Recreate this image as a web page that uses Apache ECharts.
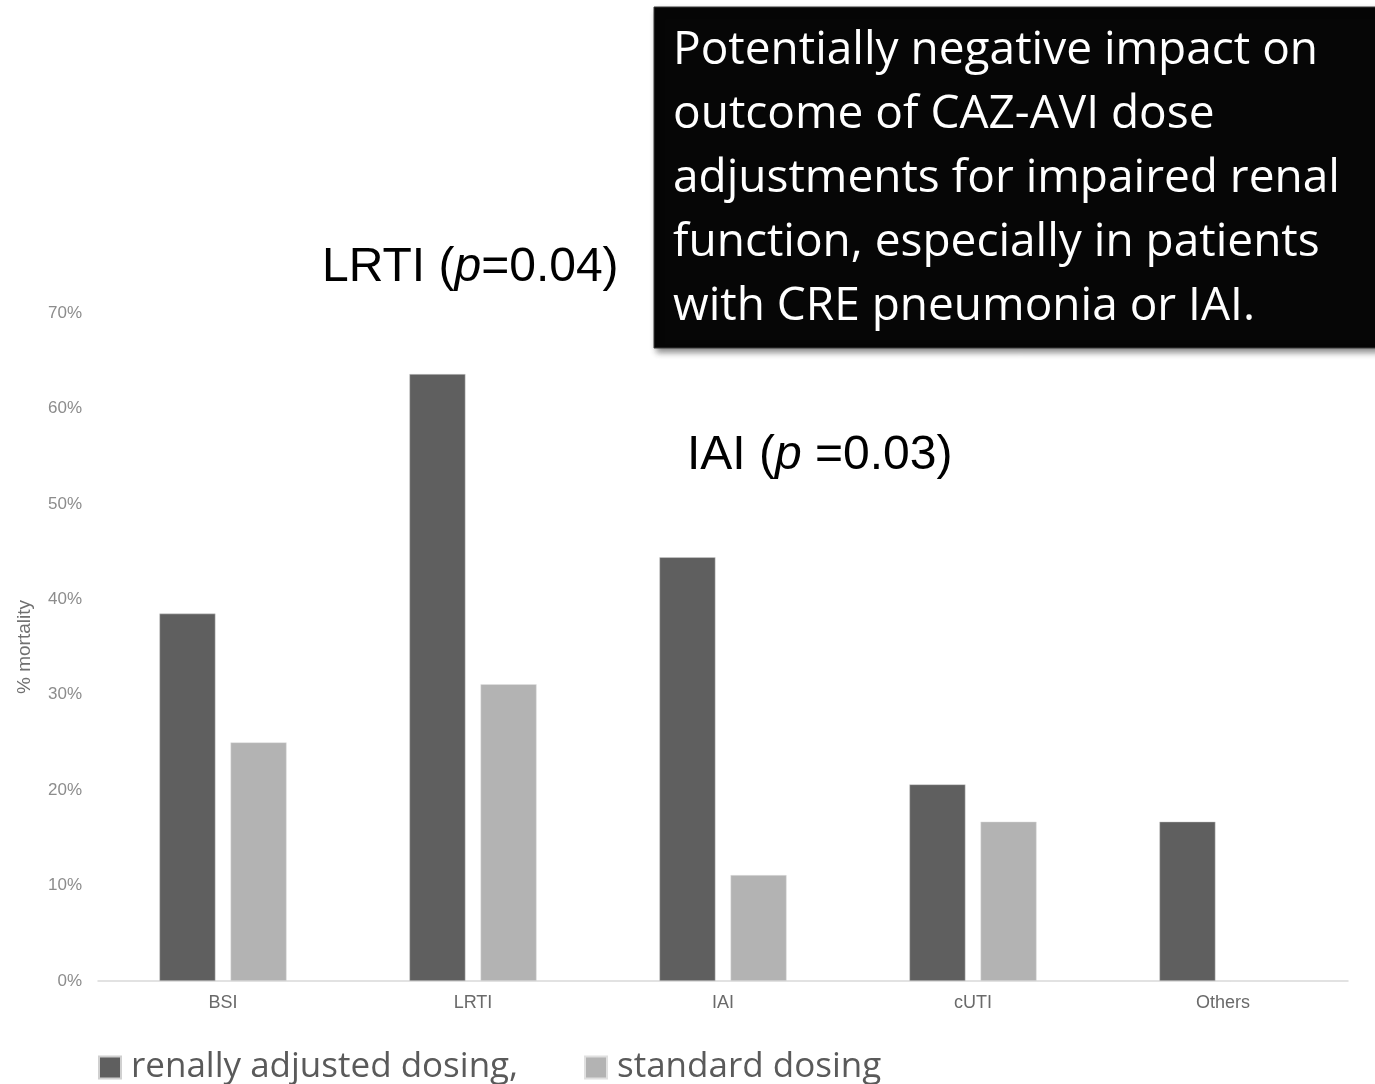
<!DOCTYPE html>
<html>
<head>
<meta charset="utf-8">
<script src="https://cdn.jsdelivr.net/npm/echarts@6/dist/echarts.min.js"></script>
<style>html,body{margin:0;padding:0;background:#fff;}#c{width:1375px;height:1084px;}</style>
</head>
<body>
<div id="c"></div>
<script>
const categories = ['BSI', 'LRTI', 'IAI', 'cUTI', 'Others'];
const renallyAdjusted = [38.5, 63.6, 44.4, 20.6, 16.7];
const standardDosing = [25.0, 31.1, 11.1, 16.7, 0];
const yTicks = [0, 10, 20, 30, 40, 50, 60, 70];
const seriesNames = ['renally adjusted dosing,', 'standard dosing'];
const boxLines = [
  'Potentially negative impact on',
  'outcome of CAZ-AVI dose',
  'adjustments for impaired renal',
  'function, especially in patients',
  'with CRE pneumonia or IAI.'
];

const chart = echarts.init(document.getElementById('c'), null, {renderer: 'canvas'});
const legendText = {fontFamily: 'Open Sans', fontSize: 35, color: '#5a5a5a', padding: [0, 0, 0, 5]};
chart.setOption({
  animation: false,
  backgroundColor: '#ffffff',
  grid: {left: 98, right: 27, top: 313, bottom: 103, containLabel: false},
  legend: [
    {data: [seriesNames[0]], left: 98, top: 1050, padding: 0, icon: 'rect', itemWidth: 22, itemHeight: 22, itemGap: 10, textStyle: legendText},
    {data: [seriesNames[1]], left: 584, top: 1050, padding: 0, icon: 'rect', itemWidth: 22, itemHeight: 22, itemGap: 10, textStyle: legendText}
  ],
  xAxis: {
    type: 'category',
    data: categories,
    axisLine: {lineStyle: {color: '#d9d9d9', width: 1.5}},
    axisTick: {show: false},
    axisLabel: {color: '#6a6a6a', fontSize: 18, fontFamily: 'Liberation Sans', margin: 13}
  },
  yAxis: {
    type: 'value',
    min: yTicks[0],
    max: yTicks[yTicks.length - 1],
    interval: 10,
    name: '% mortality',
    nameLocation: 'middle',
    nameGap: 64,
    nameTextStyle: {color: '#707070', fontSize: 19, fontFamily: 'Liberation Sans'},
    axisLine: {show: false},
    axisTick: {show: false},
    splitLine: {show: false},
    axisLabel: {color: '#8c8c8c', fontSize: 17, fontFamily: 'Liberation Sans', margin: 16, formatter: '{value}%'}
  },
  series: [
    {name: seriesNames[0], type: 'bar', data: renallyAdjusted, barWidth: 56, barGap: '27%', itemStyle: {color: '#5f5f5f', borderColor: '#d0d0d0', borderWidth: 0.5}},
    {name: seriesNames[1], type: 'bar', data: standardDosing, barWidth: 56, barGap: '27%', itemStyle: {color: '#b3b3b3', borderColor: '#e0e0e0', borderWidth: 0.5}}
  ],
  graphic: [
    {type: 'text', left: 322, top: 244, style: {
      text: '{a|LRTI (}{b|p}{a|=0.04)}',
      rich: {a: {fontFamily: 'Liberation Sans', fontSize: 48, fill: '#000'}, b: {fontFamily: 'Liberation Sans', fontStyle: 'italic', fontSize: 48, fill: '#000'}}
    }},
    {type: 'text', left: 687, top: 432, style: {
      text: '{a|IAI (}{b|p}{a| =0.03)}',
      rich: {a: {fontFamily: 'Liberation Sans', fontSize: 48, fill: '#000'}, b: {fontFamily: 'Liberation Sans', fontStyle: 'italic', fontSize: 48, fill: '#000'}}
    }},
    {type: 'rect', shape: {x: 654, y: 7, width: 740, height: 341}, style: {fill: '#060606', stroke: '#3a3a3a', lineWidth: 1, shadowBlur: 6, shadowOffsetX: 3, shadowOffsetY: 4, shadowColor: 'rgba(0,0,0,0.45)'}},
    {type: 'text', left: 673, top: 19, style: {
      text: boxLines.join('\n'), fill: '#ffffff', fontFamily: 'Open Sans', fontSize: 46, lineHeight: 64
    }}
  ]
});
</script>
</body>
</html>
